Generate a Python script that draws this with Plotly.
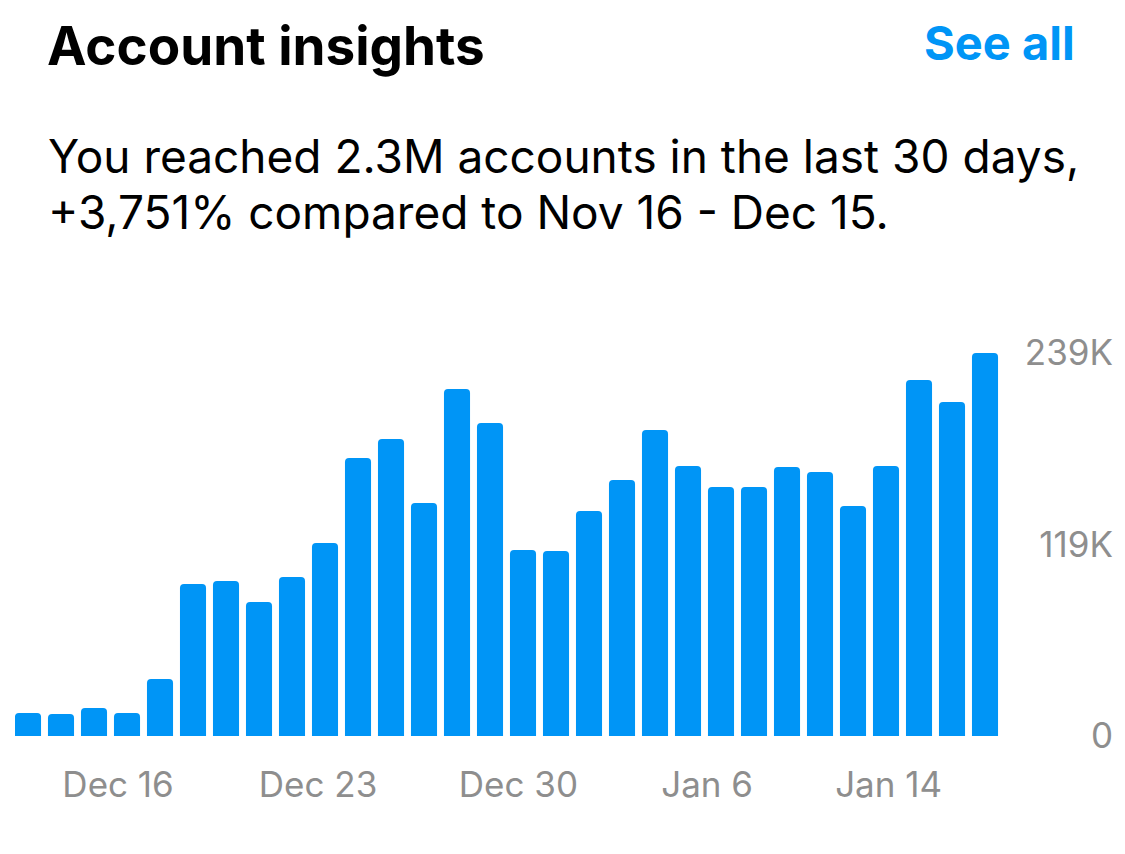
import plotly.graph_objects as go

# ---- data ----
days = list(range(30))  # Dec 16 ... Jan 14 (30 days)
reach = [14400, 13700, 17500, 14400, 35600, 94900, 96700, 83600, 99200, 120400,
         173500, 185300, 145400, 216500, 195300, 116100, 115400, 140400, 159800, 191000,
         168500, 155400, 155400, 167900, 164700, 143500, 168500, 222200, 208400, 239000]
x_tick_pos = [2.73, 8.79, 14.86, 20.58, 26.08]
x_tick_text = ["Dec 16", "Dec 23", "Dec 30", "Jan 6", "Jan 14"]
y_tick_vals = [0, 119500, 239000]
y_tick_text = ["0", "119K", "239K"]

W, H = 1125, 854
TOP, BOT = 353, 736
plot_h = BOT - TOP


def py(ypx):
    return (BOT - ypx) / plot_h


BLUE = "#0095F6"
GRAY = "#8E8E8E"
FONT = "Inter"

fig = go.Figure(go.Bar(
    x=days, y=reach,
    marker=dict(color=BLUE, line=dict(width=0), cornerradius=4),
    hoverinfo="skip",
))

fig.update_layout(
    template="none",
    width=W, height=H,
    margin=dict(l=0, r=0, t=TOP, b=H - BOT, pad=0),
    paper_bgcolor="white", plot_bgcolor="white",
    bargap=0.21,
    showlegend=False,
    font=dict(family=FONT, color=GRAY),
    xaxis=dict(
        domain=[11.5 / W, 1001.5 / W],
        range=[-0.5, 29.5],
        tickmode="array", tickvals=x_tick_pos, ticktext=x_tick_text,
        showgrid=False, zeroline=False, showline=False, ticks="",
        tickfont=dict(family=FONT, size=35, color=GRAY),
        ticklabelstandoff=25,
        automargin=False, fixedrange=True,
    ),
    yaxis=dict(
        range=[0, 239000],
        anchor="free", position=1113 / W, side="left",
        tickmode="array", tickvals=y_tick_vals, ticktext=y_tick_text,
        showgrid=False, zeroline=False, showline=False, ticks="",
        tickfont=dict(family=FONT, size=35, color=GRAY),
        automargin=False, fixedrange=True,
    ),
)

fig.add_annotation(text="<b>Account insights</b>", xref="paper", yref="paper",
                   x=45 / W, y=py(46), xanchor="left", yanchor="middle", showarrow=False,
                   font=dict(family=FONT, size=53, color="#000000"))
fig.add_annotation(text="<b>See all</b>", xref="paper", yref="paper",
                   x=1077 / W, y=py(42), xanchor="right", yanchor="middle", showarrow=False,
                   font=dict(family=FONT, size=47, color=BLUE))
fig.add_annotation(text="You reached 2.3M accounts in the last 30 days,", xref="paper", yref="paper",
                   x=46 / W, y=py(156), xanchor="left", yanchor="middle", showarrow=False,
                   font=dict(family=FONT, size=46, color="#000000"))
fig.add_annotation(text="+3,751% compared to Nov 16 - Dec 15.", xref="paper", yref="paper",
                   x=46 / W, y=py(212), xanchor="left", yanchor="middle", showarrow=False,
                   font=dict(family=FONT, size=46, color="#000000"))

fig.write_html("out.html", config={"displayModeBar": False})
